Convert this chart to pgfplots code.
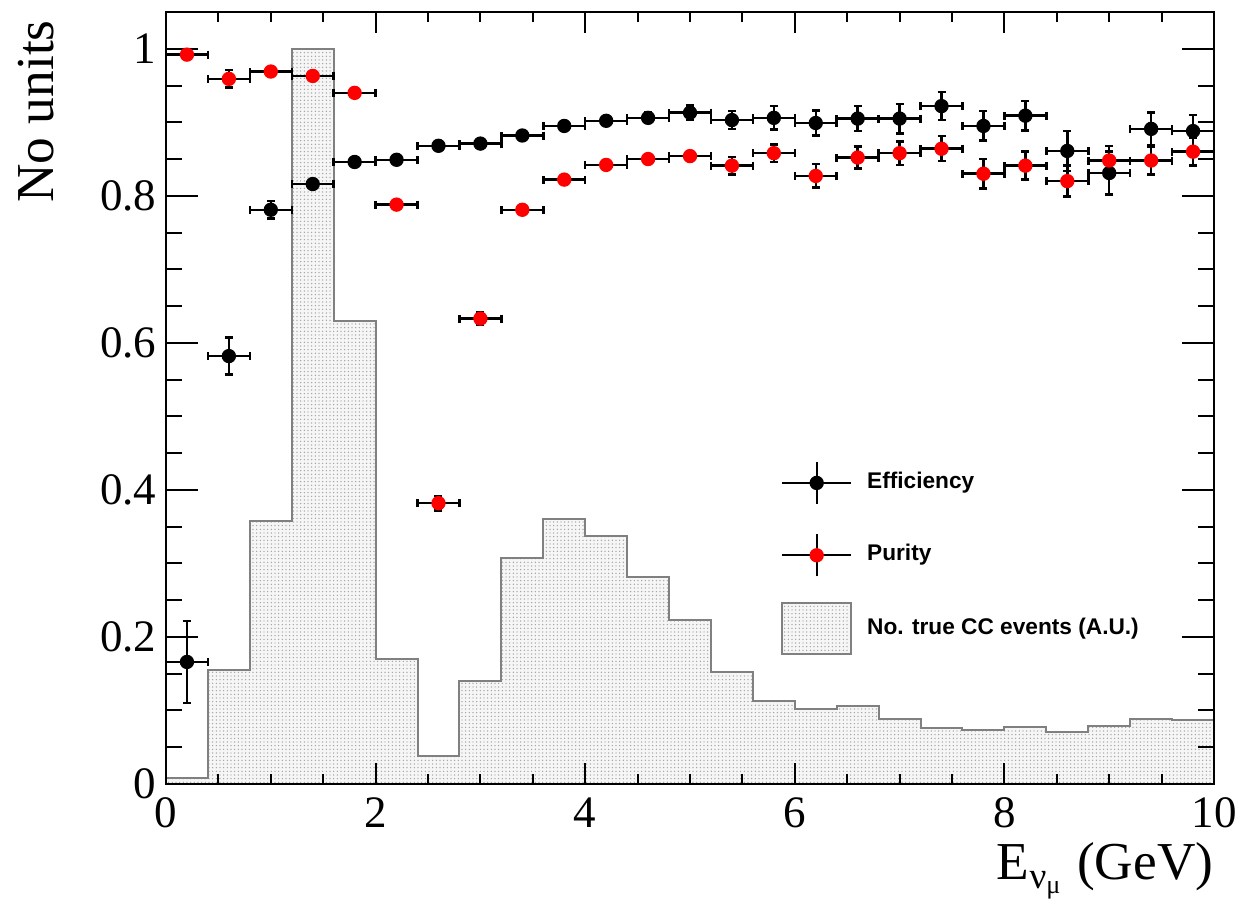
\documentclass[border=0pt]{standalone}
\usepackage{pgfplots}
\pgfplotsset{compat=1.18}
\usepackage{pgfplotstable}
\usepackage{fontspec}
\setmainfont{Liberation Serif}
\newfontfamily\legfont{Liberation Sans}
\usetikzlibrary{patterns}
\pgfdeclarepatternformonly{finedots}{\pgfqpoint{-0.3pt}{-0.3pt}}{\pgfqpoint{0.3pt}{0.3pt}}{\pgfqpoint{1.1pt}{1.1pt}}{%
  \pgfpathcircle{\pgfqpoint{0pt}{0pt}}{0.22pt}\pgfusepath{fill}}

\pgfplotstableread{
x y
0.0 0.008
0.4 0.155
0.8 0.358
1.2 1.000
1.6 0.630
2.0 0.170
2.4 0.038
2.8 0.140
3.2 0.307
3.6 0.361
4.0 0.337
4.4 0.282
4.8 0.223
5.2 0.152
5.6 0.113
6.0 0.102
6.4 0.106
6.8 0.088
7.2 0.076
7.6 0.073
8.0 0.078
8.4 0.071
8.8 0.079
9.2 0.088
9.6 0.087
10.0 0.087
}\histtab

\pgfplotstableread{
x y ey
0.2 0.166 0.056
0.6 0.582 0.025
1.0 0.781 0.012
1.4 0.816 0.006
1.8 0.846 0.005
2.2 0.849 0.005
2.6 0.868 0.005
3.0 0.871 0.005
3.4 0.882 0.005
3.8 0.895 0.005
4.2 0.902 0.006
4.6 0.906 0.007
5.0 0.913 0.010
5.4 0.903 0.012
5.8 0.906 0.016
6.2 0.899 0.017
6.6 0.905 0.017
7.0 0.905 0.020
7.4 0.922 0.019
7.8 0.895 0.020
8.2 0.909 0.020
8.6 0.861 0.027
9.0 0.831 0.029
9.4 0.891 0.022
9.8 0.888 0.022
}\efftab

\pgfplotstableread{
x y ey
0.2 0.992 0.003
0.6 0.959 0.012
1.0 0.969 0.004
1.4 0.963 0.004
1.8 0.940 0.004
2.2 0.788 0.005
2.6 0.382 0.010
3.0 0.633 0.009
3.4 0.781 0.005
3.8 0.822 0.005
4.2 0.842 0.005
4.6 0.850 0.006
5.0 0.854 0.007
5.4 0.841 0.012
5.8 0.858 0.012
6.2 0.827 0.016
6.6 0.852 0.015
7.0 0.858 0.016
7.4 0.864 0.017
7.8 0.830 0.020
8.2 0.841 0.019
8.6 0.820 0.021
9.0 0.848 0.020
9.4 0.848 0.019
9.8 0.860 0.019
}\purtab

\begin{document}
\begin{tikzpicture}
\begin{axis}[
  scale only axis,
  width=314.4pt, height=231.6pt,
  xmin=0, xmax=10, ymin=0, ymax=1.05,
  xtick={0,2,4,6,8,10},
  minor x tick num=3,
  ytick={0,0.2,0.4,0.6,0.8,1},
  minor y tick num=3,
  tick align=inside,
  axis line style={line width=0.6pt},
  every tick/.style={black, line width=0.6pt},
  xtick style={/pgfplots/major tick length=6.3pt, /pgfplots/minor tick length=3pt},
  ytick style={/pgfplots/major tick length=9.6pt, /pgfplots/minor tick length=4.8pt},
  /pgf/number format/assume math mode=true,
  ticklabel style={font=\fontsize{13.5}{15}\selectfont},
  yticklabel style={inner sep=0pt, xshift=-2.7pt},
  xticklabel style={inner sep=0pt, yshift=-3.9pt},
  xlabel={E\textsubscript{ν\textsubscript{μ}} (GeV)},
  ylabel={No units},
  label style={font=\fontsize{16}{18}\selectfont, inner sep=0pt},
  xlabel style={at={(axis description cs:1,-0.075)}, anchor=north east},
  ylabel style={at={(axis description cs:-0.106,0.99)}, anchor=south east},
  axis on top,
  legend style={draw=none, fill=none, at={(0.587,0.423)}, anchor=north west,
    inner sep=0pt, outer sep=0pt,
    font=\legfont\bfseries\fontsize{6.8}{8}\selectfont,
    nodes={inner sep=0pt}, row sep=6.4pt, column sep=4.5pt},
  legend cell align=left,
  error bars/error bar style={black, line width=0.75pt},
  error bars/error mark=-,
  error bars/error mark options={rotate=90, black, line width=0.75pt, mark size=1.2pt},
]
\addplot[const plot, forget plot, draw=gray, line width=0.6pt, fill=gray!7,
  postaction={pattern=finedots, pattern color=gray!75}]
  table[x=x,y=y] {\histtab} \closedcycle;

\addplot[only marks, mark=*, mark size=1.95pt, black, mark options={fill=black, draw=black},
  legend image code/.code={
    \draw[black, line width=0.6pt] (0pt,0pt) -- (20.7pt,0pt);
    \draw[black, line width=0.6pt] (10.35pt,-6.3pt) -- (10.35pt,6.3pt);
    \fill[black] (10.35pt,0pt) circle (1.95pt);
    \path[draw=none, fill=none] (0pt,-7.65pt) rectangle (20.7pt,7.65pt);},
  error bars/.cd, x dir=both, x fixed=0.2, y dir=both, y explicit,
  ]
  table[x=x, y=y, y error=ey] {\efftab};
\addlegendentry{Efficiency}

\addplot[only marks, mark=*, mark size=1.95pt, red, mark options={fill=red, draw=red},
  legend image code/.code={
    \draw[black, line width=0.6pt] (0pt,0pt) -- (20.7pt,0pt);
    \draw[black, line width=0.6pt] (10.35pt,-6.3pt) -- (10.35pt,6.3pt);
    \fill[red] (10.35pt,0pt) circle (1.95pt);
    \path[draw=none, fill=none] (0pt,-7.65pt) rectangle (20.7pt,7.65pt);},
  error bars/.cd, x dir=both, x fixed=0.2, y dir=both, y explicit,
  ]
  table[x=x, y=y, y error=ey] {\purtab};
\addlegendentry{Purity}

\addlegendimage{legend image code/.code={
  \draw[gray, line width=0.6pt, fill=gray!7, postaction={pattern=finedots, pattern color=gray!75}] (0pt,-7.65pt) rectangle (20.7pt,7.65pt);}}
\addlegendentry{No. true CC events (A.U.)}
\end{axis}
\pgfresetboundingbox
\path[use as bounding box] ([xshift=-49.8pt,yshift=-36.9pt]current axis.south west) rectangle ([xshift=7.5pt,yshift=3.6pt]current axis.north east);
\end{tikzpicture}
\end{document}
